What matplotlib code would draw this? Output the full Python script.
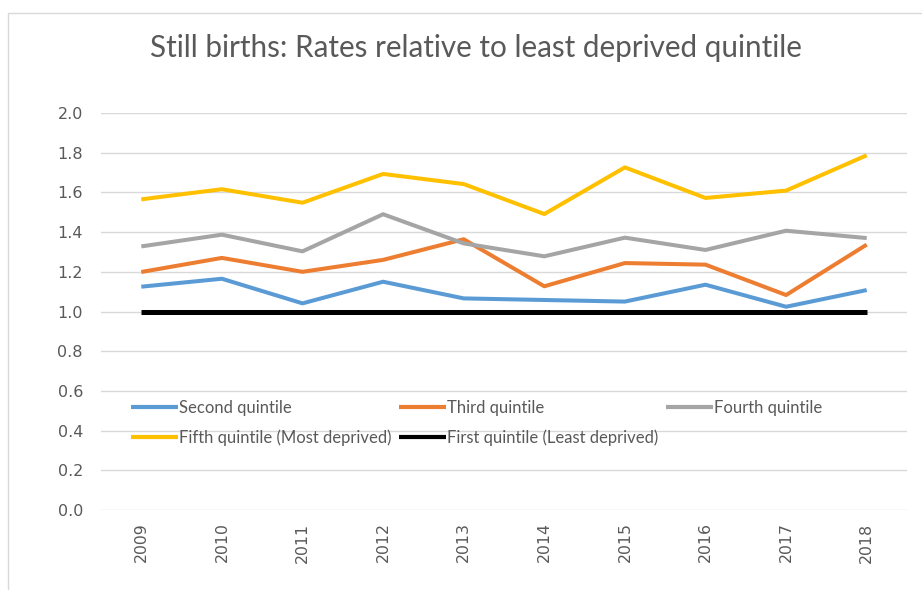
import matplotlib
matplotlib.use("Agg")
import matplotlib.pyplot as plt
from matplotlib.patches import Rectangle

years = ["2009", "2010", "2011", "2012", "2013", "2014", "2015", "2016", "2017", "2018"]
second = [1.125, 1.165, 1.041, 1.150, 1.066, 1.058, 1.050, 1.135, 1.024, 1.108]
third = [1.199, 1.270, 1.200, 1.260, 1.364, 1.127, 1.244, 1.236, 1.083, 1.337]
fourth = [1.328, 1.387, 1.303, 1.490, 1.343, 1.278, 1.372, 1.310, 1.407, 1.370]
fifth = [1.565, 1.616, 1.548, 1.693, 1.642, 1.491, 1.726, 1.572, 1.609, 1.787]
first = [1.0, 1.0, 1.0, 1.0, 1.0, 1.0, 1.0, 1.0, 1.0, 1.0]
yticks = [0.0, 0.2, 0.4, 0.6, 0.8, 1.0, 1.2, 1.4, 1.6, 1.8, 2.0]

title = "Still births: Rates relative to least deprived quintile"
labels = ["Second quintile", "Third quintile", "Fourth quintile",
          "Fifth quintile (Most deprived)", "First quintile (Least deprived)"]
colors = ["#5B9BD5", "#ED7D31", "#A5A5A5", "#FFC000", "#000000"]

W, H = 922, 590
fig = plt.figure(figsize=(W / 100, H / 100), dpi=100)
fig.patches.append(Rectangle((8 / W, -0.1), 1.2, 1.1 - 13 / H,
                             transform=fig.transFigure, fill=False,
                             edgecolor="#d9d9d9", linewidth=1.0))

ax = fig.add_axes([101 / W, 1 - 510 / H, (907 - 101) / W, (510 - 113) / H])
x = list(range(len(years)))
series = [second, third, fourth, fifth, first]
handles = []
for s, c, lab in zip(series, colors, labels):
    lw = 3.6 if c == "#000000" else 2.9
    h, = ax.plot(x, s, color=c, linewidth=lw, label=lab, solid_capstyle="butt")
    handles.append(h)

ax.set_xlim(-0.5, len(years) - 0.5)
ax.set_ylim(0, 2.0)
ax.set_yticks(yticks)
ax.set_yticklabels([f"{v:.1f}" for v in yticks])
ax.set_xticks(x)
ax.set_xticklabels(years, rotation=90)
ax.tick_params(axis="y", length=0, pad=13, labelsize=11.5, labelcolor="#595959")
ax.tick_params(axis="x", length=0, pad=9, labelsize=11.3, labelcolor="#595959")
for sp in ax.spines.values():
    sp.set_visible(False)
ax.grid(axis="y", color="#d9d9d9", linewidth=1.0)
ax.set_axisbelow(True)

order = [0, 3, 1, 4, 2]
leg = ax.legend([handles[i] for i in order], [labels[i] for i in order],
                ncol=3, frameon=False, loc="upper left",
                bbox_to_anchor=((131 - 101) / (907 - 101), (510 - 400) / (510 - 113)),
                borderaxespad=0, borderpad=0, handlelength=2.8, handletextpad=0.05,
                columnspacing=0.5, labelspacing=0.78,
                prop={"family": "Lato", "size": 12})
for t in leg.get_texts():
    t.set_color("#595959")
for lh in leg.get_lines():
    lh.set_linewidth(3.0)

fig.text(476 / W, 1 - 48 / H, title, ha="center", va="center",
         fontsize=21.3, color="#595959", family="Lato")

fig.savefig("out.png", dpi=100)
